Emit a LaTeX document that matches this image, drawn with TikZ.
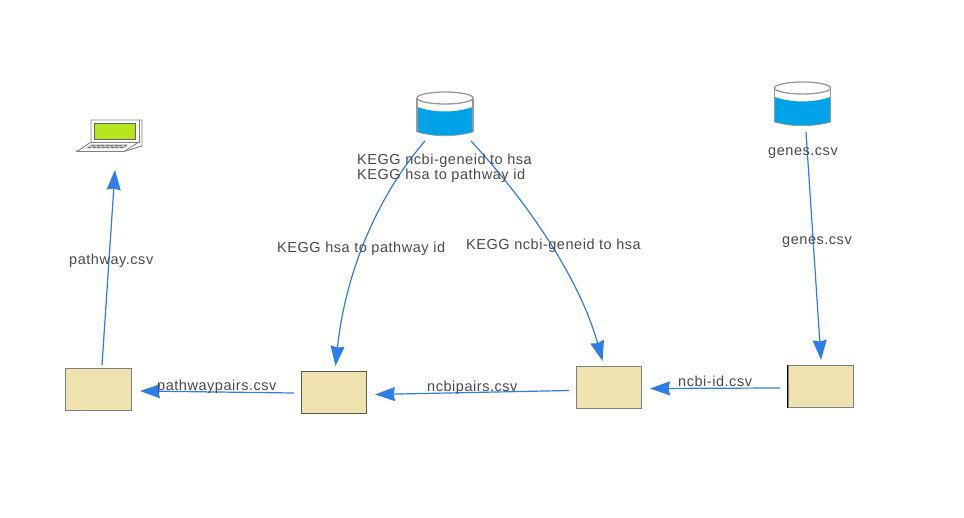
\documentclass[tikz,border=0pt]{standalone}
\usepackage{fontspec}
\setmainfont[LetterSpace=3.7]{Liberation Sans}
\usetikzlibrary{arrows.meta}
\definecolor{arrowblue}{HTML}{2F7DEB}
\definecolor{boxfill}{HTML}{EEE2AF}
\definecolor{dbblue}{HTML}{00A2E8}
\definecolor{screen}{HTML}{B5E61D}
\definecolor{labelgray}{HTML}{4A4A4A}
\tikzset{
  x=1pt,y=-1pt,
  procbox/.style={draw=black!50,fill=boxfill,line width=0.9pt,minimum width=65.5pt,minimum height=42.5pt,inner sep=0pt},
  conn/.style={draw=arrowblue,line width=1.2pt,-{Stealth[length=20pt,width=14pt,inset=1.5pt]}},
  lbl/.style={text=labelgray,font=\fontsize{14.5}{16}\selectfont,inner sep=0pt,anchor=base west},
  dbanchor/.style={minimum width=57pt,minimum height=44pt,inner sep=0pt},
}
\newcommand{\dbicon}[2]{%
  \begin{scope}[shift={(#1,#2)}]
    \fill[white] (0,6) arc[x radius=28,y radius=6,start angle=180,end angle=360] -- (56,40) -- (0,40) -- cycle;
    \fill[dbblue] (0,15) .. controls (18,21) and (38,21) .. (56,15) -- (56,40) .. controls (38,45) and (18,45) .. (0,40) -- cycle;
    \draw[black!40,line width=1.3pt] (0,6) -- (0,40);
    \draw[black!40,line width=1.3pt] (56,6) -- (56,40);
    \draw[black!40,line width=1.3pt,fill=white] (28,6) ellipse[x radius=28,y radius=6];
    \draw[black!40,line width=.7pt] (0,40) .. controls (18,45) and (38,45) .. (56,40);
  \end{scope}}
\begin{document}
\begin{tikzpicture}
\useasboundingbox (0,0) rectangle (964,518);
% databases
\dbicon{417}{92}
\dbicon{774.5}{82}
\node[dbanchor] (kegg) at (445,114) {};
\node[dbanchor] (genesdb) at (802.5,104) {};
% laptop
\node[minimum width=66pt,minimum height=34pt,inner sep=0pt] (laptop) at (110,135) {};
\draw[black!50,line width=0.9pt,fill=white] (91,120) -- (142,120) -- (142,146) -- (124,151.5) -- (77,151.5) -- (91,142) -- cycle;
\draw[black!50,line width=0.8pt] (139,120) -- (139,142) -- (91,142);
\draw[black!50,line width=0.8pt] (139,142) -- (124,151.5);
\fill[black!25] (91,144.5) -- (128,144.5) -- (125,148.5) -- (85,148.5) -- cycle;
\draw[black!55,line width=1pt,dash pattern=on 3pt off 1.5pt] (88,147.5) -- (124,147.5);
\draw[black!55,line width=0.8pt,dash pattern=on 3pt off 1.5pt] (92,145.5) -- (127,145.5);
\draw[black!60,line width=0.7pt,fill=screen] (94.5,123.5) rectangle (135.5,139.5);
% process boxes
\node[procbox] (b1) at (98.5,389.5) {};
\node[procbox,draw=black!65] (b2) at (334,392.5) {};
\node[procbox] (b3) at (609,387.5) {};
\node[procbox] (b4) at (821,386.5) {};
\draw[black,line width=0.9pt] (b4.north west) -- (b4.south west);
% connectors
\coordinate (b4w) at (780,388);
\coordinate (b3e) at (650,388.5);
\coordinate (b3w) at (569,390.5);
\coordinate (b2e) at (375,394.5);
\coordinate (b2w) at (294,393);
\coordinate (b1e) at (140,391);
\draw[conn] (b4w) -- (b3e);
\draw[conn] (b3w) -- (b2e);
\draw[conn] (b2w) -- (b1e);
\coordinate (b1out) at (102,365);
\coordinate (lapin) at (115,170);
\draw[conn] (b1out) -- (lapin);
\coordinate (keggl) at (425,141);
\coordinate (keggr) at (471,141);
\coordinate (b2in) at (335.5,366);
\coordinate (b3in) at (602.5,361);
\coordinate (genout) at (806,132);
\coordinate (b4in) at (821,360);
\draw[conn] (keggl) .. controls (370,205) and (344,285) .. (b2in);
\draw[conn] (keggr) .. controls (530,205) and (580,280) .. (b3in);
\draw[conn] (genout) -- (b4in);
% labels
\node[lbl] at (357,164.5) {KEGG ncbi-geneid to hsa};
\node[lbl] at (357,180) {KEGG hsa to pathway id};
\node[lbl] at (768,156) {genes.csv};
\node[lbl] at (782,245) {genes.csv};
\node[lbl] at (277,252.5) {KEGG hsa to pathway id};
\node[lbl] at (466,249.5) {KEGG ncbi-geneid to hsa};
\node[lbl] at (69,265) {pathway.csv};
\node[lbl] at (157,391) {pathwaypairs.csv};
\node[lbl] at (427,392) {ncbipairs.csv};
\node[lbl] at (678,387) {ncbi-id.csv};
\end{tikzpicture}
\end{document}
